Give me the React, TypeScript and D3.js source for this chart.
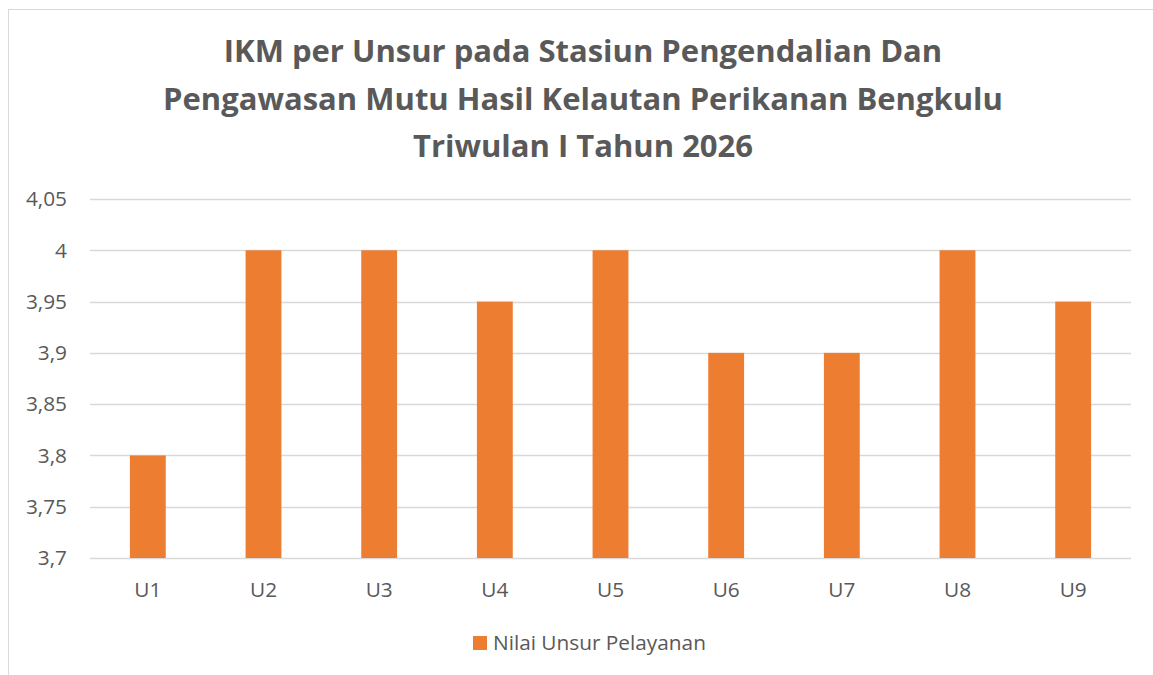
import React, { useEffect, useRef } from 'react'
import * as d3 from 'd3'

const categories = ['U1', 'U2', 'U3', 'U4', 'U5', 'U6', 'U7', 'U8', 'U9']
const values = [3.8, 4, 4, 3.95, 4, 3.9, 3.9, 4, 3.95]
const yTicks = [3.7, 3.75, 3.8, 3.85, 3.9, 3.95, 4, 4.05]
const titleLines = [
  'IKM per Unsur pada Stasiun Pengendalian Dan',
  'Pengawasan Mutu Hasil Kelautan Perikanan Bengkulu',
  'Triwulan I Tahun 2026',
]
const seriesName = 'Nilai Unsur Pelayanan'

const W = 1153
const H = 675
const font = '"Open Sans", "Noto Sans", sans-serif'
const textColor = '#595959'

const App = () => {
  const ref = useRef<SVGSVGElement | null>(null)

  useEffect(() => {
    if (!ref.current) return
    const svg = d3.select(ref.current)
    svg.selectAll('*').remove()

    // chart frame (runs off the right/bottom edge)
    svg
      .append('rect')
      .attr('x', 8.5)
      .attr('y', 9.5)
      .attr('width', W + 20)
      .attr('height', H + 20)
      .attr('fill', '#fff')
      .attr('stroke', '#d9d9d9')

    const left = 90
    const right = 1131
    const top = 199
    const bottom = 558

    const x = d3.scaleBand<string>().domain(categories).range([left, right]).paddingInner(0.69).paddingOuter(0.345)
    const y = d3.scaleLinear().domain([3.7, 4.05]).range([bottom, top])

    // title
    svg
      .append('g')
      .selectAll('text')
      .data(titleLines)
      .enter()
      .append('text')
      .attr('x', 583)
      .attr('y', (d, i) => 62 + i * 47.5)
      .attr('text-anchor', 'middle')
      .attr('font-family', font)
      .attr('font-weight', 'bold')
      .attr('font-size', 31)
      .attr('fill', textColor)
      .text((d) => d)

    // gridlines
    svg
      .append('g')
      .selectAll('line')
      .data(yTicks)
      .enter()
      .append('line')
      .attr('x1', left)
      .attr('x2', right)
      .attr('y1', (d) => Math.round(y(d)) + 0.5)
      .attr('y2', (d) => Math.round(y(d)) + 0.5)
      .attr('stroke', '#d9d9d9')
      .attr('stroke-width', 1.3)

    // y labels
    const fmt = (d: number) => String(+d.toFixed(2)).replace('.', ',')
    svg
      .append('g')
      .selectAll('text')
      .data(yTicks)
      .enter()
      .append('text')
      .attr('x', 67)
      .attr('y', (d) => y(d))
      .attr('dy', '0.35em')
      .attr('text-anchor', 'end')
      .attr('font-family', font)
      .attr('font-size', 20.8)
      .attr('fill', textColor)
      .text(fmt)

    // bars
    svg
      .append('g')
      .selectAll('rect')
      .data(values)
      .enter()
      .append('rect')
      .attr('x', (d, i) => x(categories[i]) as number)
      .attr('y', (d) => y(d))
      .attr('width', x.bandwidth())
      .attr('height', (d) => bottom - y(d))
      .attr('fill', '#ED7D31')

    // x labels
    svg
      .append('g')
      .selectAll('text')
      .data(categories)
      .enter()
      .append('text')
      .attr('x', (d) => (x(d) as number) + x.bandwidth() / 2)
      .attr('y', 590)
      .attr('dy', '0.35em')
      .attr('text-anchor', 'middle')
      .attr('font-family', font)
      .attr('font-size', 20.8)
      .attr('fill', textColor)
      .text((d) => d)

    // legend
    const lg = svg.append('g')
    lg.append('rect').attr('x', 473).attr('y', 636).attr('width', 14).attr('height', 14).attr('fill', '#ED7D31')
    lg.append('text')
      .attr('x', 493)
      .attr('y', 643)
      .attr('dy', '0.35em')
      .attr('font-family', font)
      .attr('font-size', 20.8)
      .attr('fill', textColor)
      .text(seriesName)
  }, [])

  return <svg ref={ref} width={W} height={H} style={{ position: 'absolute', left: 0, top: 0 }} />
}

export default App
